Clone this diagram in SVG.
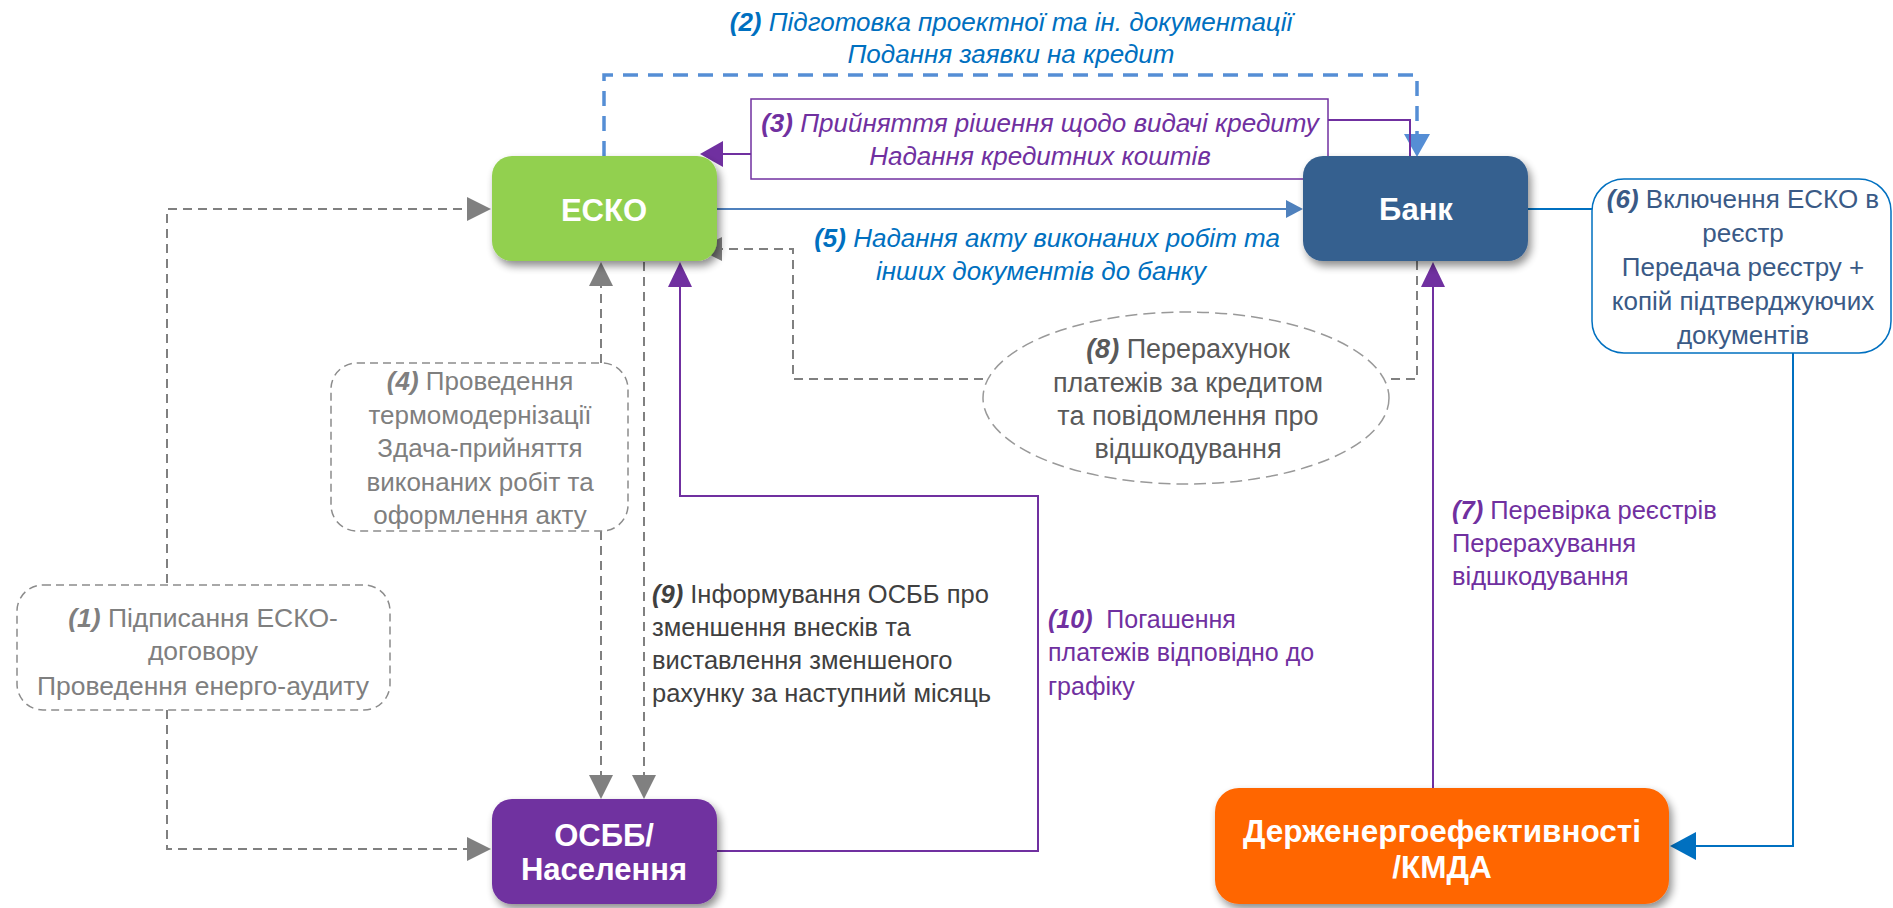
<svg xmlns="http://www.w3.org/2000/svg" width="1893" height="908" viewBox="0 0 1893 908">
<style>
.node{font-family:"Liberation Sans",Arial,sans-serif;font-weight:bold;font-size:31px;fill:#fff;text-anchor:middle}
.t{font-family:"Liberation Sans",Arial,sans-serif;font-size:25px}
.ti{font-family:"Liberation Sans",Arial,sans-serif;font-size:26px;font-style:italic}
.b{font-weight:bold;font-style:italic}
.mid{text-anchor:middle}
.gd{fill:none;stroke:#808080;stroke-width:2;stroke-dasharray:9 6}
.gbox{fill:#fff;stroke:#8c8c8c;stroke-width:1.5;stroke-dasharray:8 5}
.pl{fill:none;stroke:#7030A0;stroke-width:2}
</style>
<defs>
<filter id="sh" x="-20%" y="-20%" width="140%" height="150%">
<feGaussianBlur in="SourceAlpha" stdDeviation="4"/>
<feOffset dx="3" dy="5" result="o"/>
<feComponentTransfer><feFuncA type="linear" slope="0.45"/></feComponentTransfer>
<feMerge><feMergeNode/><feMergeNode in="SourceGraphic"/></feMerge>
</filter>
</defs>
<rect width="1893" height="908" fill="#fff"/>

<g id="connectors">
<!-- (2) blue dashed ESCO -> Bank -->
<path d="M604,156 V75 H1417 V136" fill="none" stroke="#558ED5" stroke-width="3.5" stroke-dasharray="15 10"/>
<polygon points="1404,134 1430,134 1417,157" fill="#558ED5"/>
<!-- (3) purple Bank -> ESCO -->
<path class="pl" d="M1410,157 V120 H1328"/>
<path class="pl" d="M751,154 H722"/>
<polygon points="700,154 723,141 723,167" fill="#7030A0"/>
<!-- (5) blue ESCO -> Bank -->
<path d="M717,209 H1288" fill="none" stroke="#4F81BD" stroke-width="2"/>
<polygon points="1303,209 1286,200 1286,218" fill="#4F81BD"/>
<!-- (6) Bank -> box6 -> Derzh -->
<path d="M1528,209 H1592" fill="none" stroke="#0070C0" stroke-width="2"/>
<path d="M1793,353 V846 H1694" fill="none" stroke="#0070C0" stroke-width="2"/>
<polygon points="1670,846 1696,832 1696,860" fill="#0070C0"/>
<!-- (7) Derzh -> Bank -->
<path class="pl" d="M1433,788 V284"/>
<polygon points="1433,262 1421,287 1445,287" fill="#7030A0"/>
<!-- (8) Bank -> ellipse -> ESCO -->
<path class="gd" d="M1417,261 V379 H1389"/>
<path class="gd" d="M983,379 H793 V249 H720"/>
<polygon points="698,249 722,237 722,261" fill="#808080"/>
<!-- (1) -->
<path class="gd" d="M167,583 V209 H469"/>
<polygon points="491,209 467,197 467,221" fill="#808080"/>
<path class="gd" d="M167,710 V849 H469"/>
<polygon points="491,849 467,837 467,861" fill="#808080"/>
<!-- (4) -->
<path class="gd" d="M601,363 V284"/>
<polygon points="601,262 589,286 613,286" fill="#808080"/>
<path class="gd" d="M601,531 V777"/>
<polygon points="601,799 589,775 613,775" fill="#808080"/>
<!-- (9) -->
<path class="gd" d="M644,262 V777"/>
<polygon points="644,799 632,775 656,775" fill="#808080"/>
<!-- (10) -->
<path class="pl" d="M717,851 H1038 V496 H680 V284"/>
<polygon points="680,262 668,287 692,287" fill="#7030A0"/>
</g>

<g id="label2">
<text class="ti mid" x="1011" y="31" fill="#0070C0"><tspan class="b">(2)</tspan> Підготовка проектної та ін. документації</text>
<text class="ti mid" x="1011" y="63" fill="#0070C0">Подання заявки на кредит</text>
</g>

<g id="label3">
<rect x="751" y="99" width="577" height="80" fill="#fff" stroke="#7030A0" stroke-width="1.5"/>
<text class="ti mid" x="1040" y="132" fill="#7030A0"><tspan class="b">(3)</tspan> Прийняття рішення щодо видачі кредиту</text>
<text class="ti mid" x="1040" y="165" fill="#7030A0">Надання кредитних коштів</text>
</g>

<g id="label5">
<text class="ti mid" x="1047" y="247" fill="#0070C0"><tspan class="b">(5)</tspan> Надання акту виконаних робіт та</text>
<text class="ti mid" x="1041" y="280" fill="#0070C0">інших документів до банку</text>
</g>

<g id="esko">
<rect x="492" y="156" width="225" height="105" rx="20" fill="#92D050" filter="url(#sh)"/>
<text class="node" x="604" y="221">ЕСКО</text>
</g>

<g id="bank">
<rect x="1303" y="156" width="225" height="105" rx="20" fill="#36608F" filter="url(#sh)"/>
<text class="node" x="1416" y="220">Банк</text>
</g>

<g id="osbb">
<rect x="492" y="799" width="225" height="105" rx="20" fill="#7030A0" filter="url(#sh)"/>
<text class="node" x="604" y="846">ОСББ/</text>
<text class="node" x="604" y="880">Населення</text>
</g>

<g id="derzh">
<rect x="1215" y="788" width="454" height="116" rx="24" fill="#FF6600" filter="url(#sh)"/>
<text class="node" x="1442" y="842" style="font-size:31.5px">Держенергоефективності</text>
<text class="node" x="1442" y="878" style="font-size:31.5px">/КМДА</text>
</g>

<g id="step6">
<rect x="1592" y="179" width="299" height="174" rx="32" fill="#fff" stroke="#0070C0" stroke-width="1.5"/>
<g class="t mid" fill="#3A5A86" style="font-size:26px">
<text x="1743" y="208"><tspan class="b">(6)</tspan> Включення ЕСКО в</text>
<text x="1743" y="242">реєстр</text>
<text x="1743" y="276">Передача реєстру +</text>
<text x="1743" y="310">копій підтверджуючих</text>
<text x="1743" y="344">документів</text>
</g>
</g>

<g id="step7">
<g class="t" fill="#7030A0" style="font-size:25.5px">
<text x="1452" y="519"><tspan class="b">(7)</tspan> Перевірка реєстрів</text>
<text x="1452" y="552">Перерахування</text>
<text x="1452" y="585">відшкодування</text>
</g>
</g>

<g id="step8">
<ellipse cx="1186" cy="398" rx="203" ry="86" fill="#fff" stroke="#999" stroke-width="1.5" stroke-dasharray="12 6"/>
<g class="t mid" fill="#595959" style="font-size:27px">
<text x="1188" y="358"><tspan class="b">(8)</tspan> Перерахунок</text>
<text x="1188" y="392">платежів за кредитом</text>
<text x="1188" y="425">та повідомлення про</text>
<text x="1188" y="458">відшкодування</text>
</g>
</g>

<g id="step4">
<rect x="331" y="363" width="297" height="168" rx="26" class="gbox"/>
<g class="t mid" fill="#7f7f7f" style="font-size:26px">
<text x="480" y="390"><tspan class="b">(4)</tspan> Проведення</text>
<text x="480" y="424">термомодернізації</text>
<text x="480" y="457">Здача-прийняття</text>
<text x="480" y="491">виконаних робіт та</text>
<text x="480" y="524">оформлення акту</text>
</g>
</g>

<g id="step1">
<rect x="17" y="585" width="373" height="125" rx="26" class="gbox"/>
<g class="t mid" fill="#7f7f7f" style="font-size:26.5px">
<text x="203" y="627"><tspan class="b">(1)</tspan> Підписання ЕСКО-</text>
<text x="203" y="660">договору</text>
<text x="203" y="695">Проведення енерго-аудиту</text>
</g>
</g>

<g id="step9">
<g class="t" fill="#404040" style="font-size:25.5px">
<text x="652" y="603"><tspan class="b">(9)</tspan> Інформування ОСББ про</text>
<text x="652" y="636">зменшення внесків та</text>
<text x="652" y="669">виставлення зменшеного</text>
<text x="652" y="702">рахунку за наступний місяць</text>
</g>
</g>

<g id="step10">
<g class="t" fill="#7030A0">
<text x="1048" y="628" xml:space="preserve"><tspan class="b">(10)</tspan>  Погашення</text>
<text x="1048" y="661">платежів відповідно до</text>
<text x="1048" y="695">графіку</text>
</g>
</g>
</svg>
